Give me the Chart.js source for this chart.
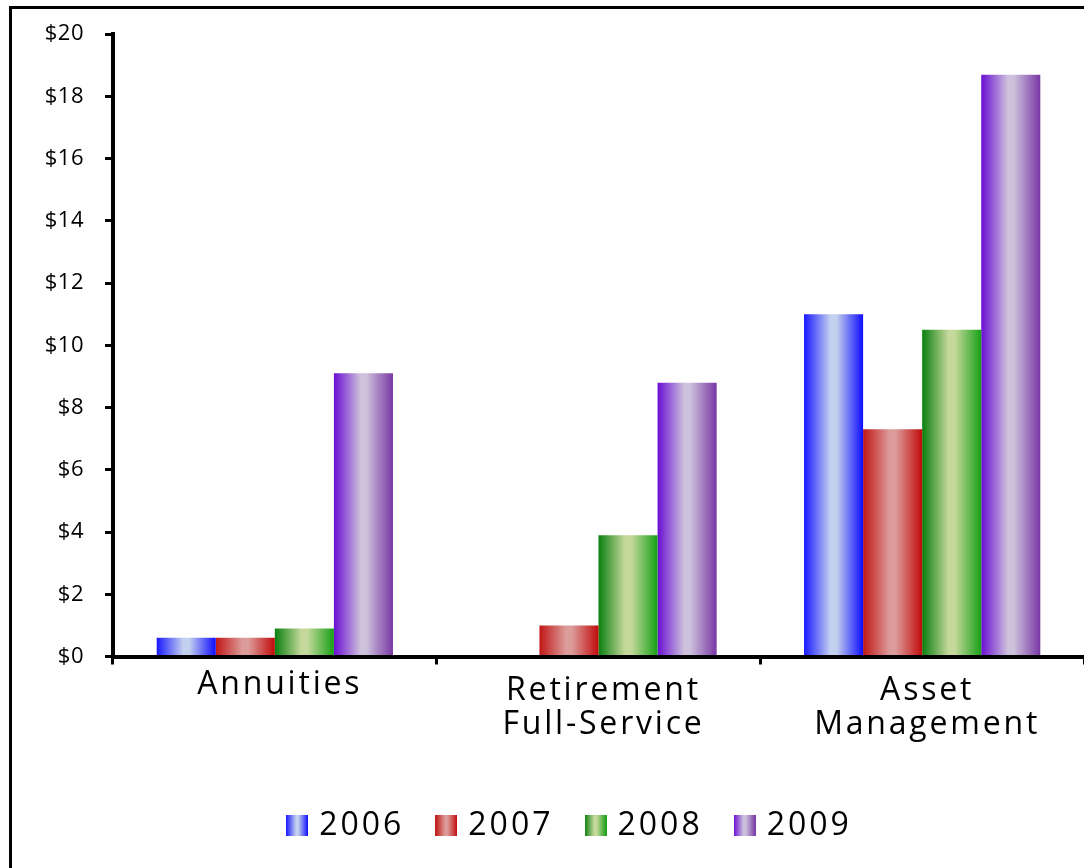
<!DOCTYPE html>
<html>
<head>
<meta charset="utf-8">
<script src="https://cdn.jsdelivr.net/npm/chart.js@4.4.1/dist/chart.umd.min.js"></script>
<style>
  html, body { margin: 0; padding: 0; background: #fff; }
  #wrap { position: relative; width: 1084px; height: 868px; }
</style>
</head>
<body>
<div id="wrap"><canvas id="c" width="1084" height="868"></canvas></div>
<script>
// Business lines on the category axis (multi-line labels as arrays)
const categories = ['Annuities', ['Retirement', 'Full-Service'], ['Asset', 'Management']];
const years = ['2006', '2007', '2008', '2009'];

// Values in $ billions per business line
const v2006 = [0.6, null, 11.0];
const v2007 = [0.6, 1.0, 7.3];
const v2008 = [0.9, 3.9, 10.5];
const v2009 = [9.1, 8.8, 18.7];

const yMax = 20;
const yStep = 2;

// Each series is shaded like a cylinder: saturated edges, pale middle
const shades = [
  { left: '#1818ff', mid: '#c4d1ee', right: '#0c0cff' },
  { left: '#c01616', mid: '#dc9c9a', right: '#c00a0a' },
  { left: '#0a7f0e', mid: '#c6d99c', right: '#16a016' },
  { left: '#6a0ed2', mid: '#cdc1dc', right: '#7837a4' }
];

const CAT_PCT = 0.73;
const FONT = '"Open Sans", Lato, sans-serif';
const PAD_LEFT = 59;
const Y_AXIS_RIGHT = 113;

function fillStops(g, s) {
  g.addColorStop(0, s.left);
  g.addColorStop(0.45, s.mid);
  g.addColorStop(0.55, s.mid);
  g.addColorStop(1, s.right);
  return g;
}

function barFill(context) {
  const s = shades[context.datasetIndex];
  const chart = context.chart;
  const xs = chart.scales.x;
  if (!chart.chartArea || !xs || context.type !== 'data') return s.left;
  const cat = xs.width / categories.length;
  const bw = cat * CAT_PCT / years.length;
  const center = xs.getPixelForValue(context.dataIndex);
  const x0 = center - cat * CAT_PCT / 2 + context.datasetIndex * bw;
  return fillStops(chart.ctx.createLinearGradient(x0, 0, x0 + bw, 0), s);
}

// Small shaded squares used as legend markers
function swatch(s) {
  const cv = document.createElement('canvas');
  cv.width = 22; cv.height = 21;
  const c = cv.getContext('2d');
  c.fillStyle = fillStops(c.createLinearGradient(0, 0, 22, 0), s);
  c.fillRect(0, 0, 22, 21);
  return cv;
}
const swatches = shades.map(swatch);

const seriesValues = [v2006, v2007, v2008, v2009];

// Draw a scale's tick labels with its own letter spacing, without clipping them to the scale box
function spaceLabels(scale, spacing) {
  if (!scale || scale._spaced) return;
  const orig = scale.drawLabels.bind(scale);
  scale._computeLabelArea = () => undefined;
  scale.drawLabels = function (area) {
    const c = this.ctx;
    const prev = c.letterSpacing;
    c.letterSpacing = spacing;
    orig(area);
    c.letterSpacing = prev;
  };
  scale._spaced = true;
}

// Letter spacing on the text, plus the outer frame
const look = {
  id: 'look',
  beforeLayout(chart) { chart.ctx.letterSpacing = '3px'; },
  afterLayout(chart) {
    spaceLabels(chart.scales.y, '0.5px');
    spaceLabels(chart.scales.x, '2.8px');
  },
  beforeDraw(chart) {
    const c = chart.ctx;
    c.save();
    c.fillStyle = '#000';
    c.fillRect(9, 6, chart.width, 3);
    c.fillRect(9, 6, 3, chart.height);
    c.restore();
    c.letterSpacing = '3px';
  }
};

new Chart(document.getElementById('c'), {
  type: 'bar',
  data: {
    labels: categories,
    datasets: years.map((y, i) => ({
      label: y,
      data: seriesValues[i],
      backgroundColor: barFill,
      borderWidth: 0,
      barPercentage: 1,
      categoryPercentage: CAT_PCT
    }))
  },
  options: {
    responsive: false,
    animation: false,
    events: [],
    layout: { padding: { top: 33.5, left: PAD_LEFT, right: 0, bottom: 16.5 } },
    scales: {
      x: {
        afterFit(scale) { scale.height = 117; },
        grid: {
          display: true, drawOnChartArea: false, drawTicks: true,
          tickLength: 8, lineWidth: 3, color: '#000', offset: true
        },
        border: { display: true, width: 4, color: '#000' },
        ticks: {
          color: '#000',
          padding: 9,
          labelOffset: 5,
          maxRotation: 0,
          autoSkip: false,
          font: (c) => ({ family: FONT, size: 32, lineHeight: c.index === 0 ? 0.69 : 1.08 })
        }
      },
      y: {
        min: 0, max: yMax,
        afterFit(scale) { scale.width = Y_AXIS_RIGHT - PAD_LEFT; },
        grid: {
          display: true, drawOnChartArea: false, drawTicks: true,
          tickLength: 8, lineWidth: 3, color: '#000'
        },
        border: { display: true, width: 4, color: '#000' },
        ticks: {
          stepSize: yStep,
          color: '#000',
          padding: 21,
          font: { family: FONT, size: 22 },
          callback: (v) => '$' + v
        }
      }
    },
    plugins: {
      tooltip: { enabled: false },
      legend: {
        position: 'bottom',
        labels: {
          color: '#000',
          font: { family: FONT, size: 32 },
          usePointStyle: true,
          boxWidth: 12,
          padding: 36,
          generateLabels: () => years.map((y, i) => ({
            text: y,
            pointStyle: swatches[i],
            fillStyle: shades[i].mid,
            strokeStyle: 'rgba(0,0,0,0)',
            lineWidth: 0,
            hidden: false,
            datasetIndex: i,
            fontColor: '#000'
          }))
        }
      }
    }
  },
  plugins: [look]
});
</script>
</body>
</html>
